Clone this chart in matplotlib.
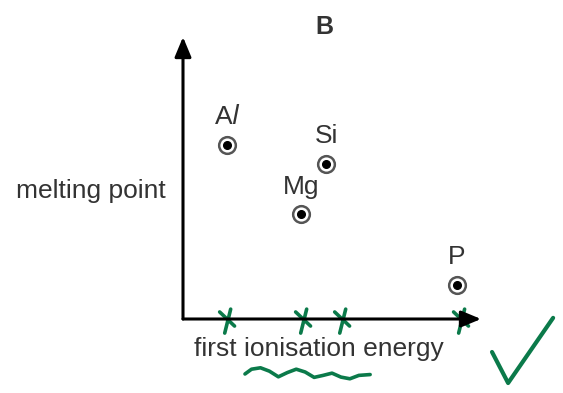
import matplotlib
matplotlib.use("Agg")
import matplotlib.pyplot as plt

plt.rcParams["font.family"] = ["Liberation Sans", "DejaVu Sans"]

# element points (arbitrary units, 0-100 along each axis)
elements = ["Al", "Si", "Mg", "P"]
ionisation = [14.8, 48.0, 39.6, 91.9]
melting = [61.7, 55.0, 37.2, 12.1]

# hand-drawn green marks on the x axis
tick_x = [14.8, 40.3, 53.4, 93.3]
# squiggle under the axis label
squig_x = [20.8, 23, 26, 29, 32, 35, 38, 41, 44, 47, 50, 53, 56, 59, 62.8]
squig_y = [-19.5, -17.8, -17.3, -18.5, -20.5, -19.0, -17.8, -18.8, -20.7, -20.0, -19.2, -20.6, -21.2, -20.0, -19.7]
# check mark
check_x = [103.7, 109.1, 124.2]
check_y = [-11.7, -22.7, 0.4]

green = "#0b7a4a"
txt = "#333333"

fig = plt.figure(figsize=(5.63, 3.93), dpi=100)
ax = fig.add_axes([183 / 563, (393 - 319) / 393, (481 - 183) / 563, (319 - 37) / 393])
ax.set_xlim(0, 100)
ax.set_ylim(0, 100)
ax.axis("off")

# axes with arrows
arrow = dict(arrowstyle="-|>,head_length=0.6,head_width=0.25", color="black", lw=2.2,
             mutation_scale=20, shrinkA=0, shrinkB=0)
ax.annotate("", xy=(100, 0), xytext=(0, 0), arrowprops=arrow)
ax.annotate("", xy=(0, 100), xytext=(0, 0), arrowprops=arrow)

ax.plot(ionisation, melting, "o", ms=12, mfc="white", mec="#555555", mew=1.8, clip_on=False)
ax.plot(ionisation, melting, "o", ms=5.5, color="black", clip_on=False)

for name, x, y in zip(elements, ionisation, melting):
    label = "A$\\it{l}$" if name == "Al" else name
    ax.text(x, y + 5.5, label, ha="center", va="bottom", fontsize=19, color=txt)

ax.text(0.476, 1.035, "B", transform=ax.transAxes, ha="center", va="center",
        fontsize=18, fontweight="bold", color=txt)
ax.text(-0.31, 0.455, "melting point", transform=ax.transAxes, ha="center", va="center",
        fontsize=19, color=txt)
ax.text(0.455, -0.105, "first ionisation energy", transform=ax.transAxes, ha="center",
        va="center", fontsize=19, color=txt)

# green annotations
for tx in tick_x:
    ax.plot([tx - 2.5, tx + 2.5], [2.5, -2.5], color=green, lw=2.6, clip_on=False,
            solid_capstyle="round")
    ax.plot([tx + 1.2, tx - 0.8], [3.5, -5.0], color=green, lw=2.6, clip_on=False,
            solid_capstyle="round")
ax.plot(squig_x, squig_y, color=green, lw=2.6, clip_on=False, solid_capstyle="round")
ax.plot(check_x, check_y, color=green, lw=3.0, clip_on=False, solid_capstyle="round")

fig.savefig("out.png", dpi=100)
